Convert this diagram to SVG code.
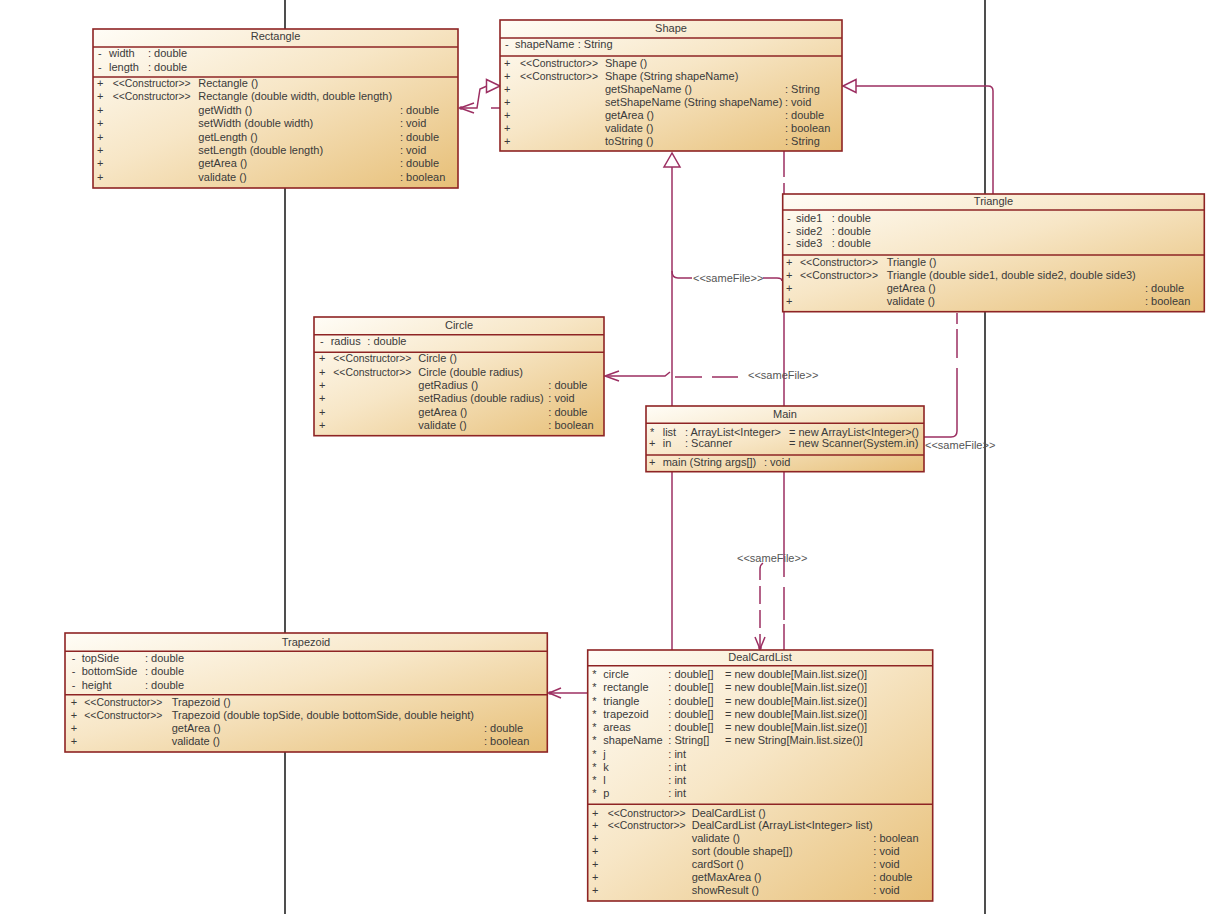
<svg xmlns="http://www.w3.org/2000/svg" width="1222" height="914" viewBox="0 0 1222 914">
<defs>
<linearGradient id="g" x1="0" y1="0" x2="1" y2="1">
<stop offset="0" stop-color="#FFFDF7"/>
<stop offset="0.45" stop-color="#F7E6C6"/>
<stop offset="1" stop-color="#E7BF77"/>
</linearGradient>
<style>
.box{fill:url(#g);stroke:#8E2424;stroke-width:1.6}
.sep{stroke:#8E2424;stroke-width:1.6}
text{font-family:"Liberation Sans",Arial,sans-serif;font-size:11px;fill:#3a3a3a}
.t{text-anchor:middle}
.s{font-size:10.4px}
.lbl{fill:#555}
.c{fill:none;stroke:#9C2F62;stroke-width:1.5}
.tri{fill:#fff;stroke:#9C2F62;stroke-width:1.5}
.bl{stroke:#222;stroke-width:1.6}
</style>
</defs>
<rect width="1222" height="914" fill="#fff"/>
<g id="swimlanes">
<line class="bl" x1="285" y1="0" x2="285" y2="914"/>
<line class="bl" x1="985" y1="0" x2="985" y2="914"/>
</g>
<g id="connectors">
<path class="c" d="M461,108 L477,108 L480,89 L487,86"/>
<polygon class="tri" points="500,86 486.5,79.5 486.5,92.5"/>
<path class="c" d="M500,108 L491,108"/>
<path class="c" d="M474,103 L460,108 L474,113"/>
<circle cx="461" cy="108" r="1.8" fill="#9C2F62"/>
<path class="c" d="M784,151 L784,177 M784,183 L784,194 M784,312 L784,406 M784,472 L784,577 M784,587 L784,620 M784,624 L784,650"/>
<path class="c" d="M672,153 L672,650"/>
<polygon class="tri" points="672,153 664,167 680,167"/>
<path class="c" d="M856,86 L988,86 Q993,86 993,91 L993,194"/>
<polygon class="tri" points="843,86 856,79.5 856,92.5"/>
<path class="c" d="M672,271 Q672,278 678,278 L692,278 M763,278 L777,278 Q782,278 782,281"/>
<text class="lbl" x="693" y="281.8">&lt;&lt;sameFile&gt;&gt;</text>
<path class="c" d="M606,376 L665,376 L670,372"/>
<path class="c" d="M619,371 L605,376 L619,381"/>
<path class="c" d="M675,377 L702,377 M712,377 L738,377"/>
<text class="lbl" x="748" y="379">&lt;&lt;sameFile&gt;&gt;</text>
<path class="c" d="M549,693 L588,693"/>
<path class="c" d="M561,688 L549,693 L561,698"/>
<circle cx="550" cy="693" r="1.8" fill="#9C2F62"/>
<text class="lbl" x="737" y="561.5">&lt;&lt;sameFile&gt;&gt;</text>
<path class="c" d="M763,563 Q760,565 760,569 L760,648" stroke-dasharray="18,6"/>
<path class="c" d="M755,637 L760,649 L765,637"/>
<circle cx="760" cy="648" r="1.8" fill="#9C2F62"/>
<path class="c" d="M957,313 L957,324 M957,329 L957,358 M957,368 L957,431 Q957,437 951,437 L924,437"/>
<text class="lbl" x="925" y="448.5">&lt;&lt;sameFile&gt;&gt;</text>
</g>
<g id="node-Rectangle">
<rect class="box" x="93" y="29" width="365" height="159"/>
<line class="sep" x1="93" y1="47" x2="458" y2="47"/>
<line class="sep" x1="93" y1="77" x2="458" y2="77"/>
<text class="t" x="275.5" y="39.5">Rectangle</text>
<text y="56.5"><tspan x="98">-</tspan><tspan x="109">width</tspan><tspan x="148">: double</tspan></text>
<text y="70.5"><tspan x="98">-</tspan><tspan x="109">length</tspan><tspan x="148">: double</tspan></text>
<text y="87.1"><tspan x="97">+</tspan><tspan class="s" x="112.7">&lt;&lt;Constructor&gt;&gt;</tspan><tspan x="198.3">Rectangle ()</tspan></text>
<text y="100.4"><tspan x="97">+</tspan><tspan class="s" x="112.7">&lt;&lt;Constructor&gt;&gt;</tspan><tspan x="198.3">Rectangle (double width, double length)</tspan></text>
<text y="113.8"><tspan x="97">+</tspan><tspan x="198.3">getWidth ()</tspan><tspan x="400">: double</tspan></text>
<text y="127.1"><tspan x="97">+</tspan><tspan x="198.3">setWidth (double width)</tspan><tspan x="400">: void</tspan></text>
<text y="140.5"><tspan x="97">+</tspan><tspan x="198.3">getLength ()</tspan><tspan x="400">: double</tspan></text>
<text y="153.8"><tspan x="97">+</tspan><tspan x="198.3">setLength (double length)</tspan><tspan x="400">: void</tspan></text>
<text y="167.1"><tspan x="97">+</tspan><tspan x="198.3">getArea ()</tspan><tspan x="400">: double</tspan></text>
<text y="180.5"><tspan x="97">+</tspan><tspan x="198.3">validate ()</tspan><tspan x="400">: boolean</tspan></text>
</g>
<g id="node-Shape">
<rect class="box" x="500" y="20" width="342" height="131"/>
<line class="sep" x1="500" y1="38" x2="842" y2="38"/>
<line class="sep" x1="500" y1="56" x2="842" y2="56"/>
<text class="t" x="671" y="31.7">Shape</text>
<text y="48.3"><tspan x="505">-</tspan><tspan x="515">shapeName</tspan><tspan x="577.7">: String</tspan></text>
<text y="66.5"><tspan x="504">+</tspan><tspan class="s" x="520">&lt;&lt;Constructor&gt;&gt;</tspan><tspan x="605">Shape ()</tspan></text>
<text y="79.6"><tspan x="504">+</tspan><tspan class="s" x="520">&lt;&lt;Constructor&gt;&gt;</tspan><tspan x="605">Shape (String shapeName)</tspan></text>
<text y="92.6"><tspan x="504">+</tspan><tspan x="605">getShapeName ()</tspan><tspan x="785">: String</tspan></text>
<text y="105.7"><tspan x="504">+</tspan><tspan x="605">setShapeName (String shapeName)</tspan><tspan x="785">: void</tspan></text>
<text y="118.7"><tspan x="504">+</tspan><tspan x="605">getArea ()</tspan><tspan x="785">: double</tspan></text>
<text y="131.8"><tspan x="504">+</tspan><tspan x="605">validate ()</tspan><tspan x="785">: boolean</tspan></text>
<text y="144.8"><tspan x="504">+</tspan><tspan x="605">toString ()</tspan><tspan x="785">: String</tspan></text>
</g>
<g id="node-Triangle">
<rect class="box" x="782.7" y="194" width="421.6" height="117.7"/>
<line class="sep" x1="782.7" y1="210" x2="1204.3" y2="210"/>
<line class="sep" x1="782.7" y1="255" x2="1204.3" y2="255"/>
<text class="t" x="993.5" y="205">Triangle</text>
<text y="221.7"><tspan x="787">-</tspan><tspan x="796">side1</tspan><tspan x="831.7">: double</tspan></text>
<text y="234.7"><tspan x="787">-</tspan><tspan x="796">side2</tspan><tspan x="831.7">: double</tspan></text>
<text y="247.3"><tspan x="787">-</tspan><tspan x="796">side3</tspan><tspan x="831.7">: double</tspan></text>
<text y="265.5"><tspan x="786">+</tspan><tspan class="s" x="800">&lt;&lt;Constructor&gt;&gt;</tspan><tspan x="886.7">Triangle ()</tspan></text>
<text y="278.8"><tspan x="786">+</tspan><tspan class="s" x="800">&lt;&lt;Constructor&gt;&gt;</tspan><tspan x="886.7">Triangle (double side1, double side2, double side3)</tspan></text>
<text y="292"><tspan x="786">+</tspan><tspan x="886.7">getArea ()</tspan><tspan x="1145">: double</tspan></text>
<text y="305"><tspan x="786">+</tspan><tspan x="886.7">validate ()</tspan><tspan x="1145">: boolean</tspan></text>
</g>
<g id="node-Circle">
<rect class="box" x="314" y="317" width="290" height="118.7"/>
<line class="sep" x1="314" y1="334.7" x2="604" y2="334.7"/>
<line class="sep" x1="314" y1="352.3" x2="604" y2="352.3"/>
<text class="t" x="459" y="329.3">Circle</text>
<text y="345.3"><tspan x="320">-</tspan><tspan x="330.7">radius</tspan><tspan x="367.3">: double</tspan></text>
<text y="362.3"><tspan x="319">+</tspan><tspan class="s" x="333.3">&lt;&lt;Constructor&gt;&gt;</tspan><tspan x="418.3">Circle ()</tspan></text>
<text y="375.7"><tspan x="319">+</tspan><tspan class="s" x="333.3">&lt;&lt;Constructor&gt;&gt;</tspan><tspan x="418.3">Circle (double radius)</tspan></text>
<text y="389"><tspan x="319">+</tspan><tspan x="418.3">getRadius ()</tspan><tspan x="548.3">: double</tspan></text>
<text y="402.3"><tspan x="319">+</tspan><tspan x="418.3">setRadius (double radius)</tspan><tspan x="548.3">: void</tspan></text>
<text y="415.5"><tspan x="319">+</tspan><tspan x="418.3">getArea ()</tspan><tspan x="548.3">: double</tspan></text>
<text y="428.7"><tspan x="319">+</tspan><tspan x="418.3">validate ()</tspan><tspan x="548.3">: boolean</tspan></text>
</g>
<g id="node-Main">
<rect class="box" x="646" y="406" width="278" height="65.7"/>
<line class="sep" x1="646" y1="423.3" x2="924" y2="423.3"/>
<line class="sep" x1="646" y1="455" x2="924" y2="455"/>
<text class="t" x="785" y="418">Main</text>
<text y="435.5"><tspan x="650">*</tspan><tspan x="662.7">list</tspan><tspan x="685">: ArrayList&lt;Integer&gt;</tspan><tspan x="789">= new ArrayList&lt;Integer&gt;()</tspan></text>
<text y="446.7"><tspan x="649">+</tspan><tspan x="662.7">in</tspan><tspan x="685">: Scanner</tspan><tspan x="789">= new Scanner(System.in)</tspan></text>
<text y="465.5"><tspan x="649">+</tspan><tspan x="662.7">main (String args[])</tspan><tspan x="764">: void</tspan></text>
</g>
<g id="node-Trapezoid">
<rect class="box" x="65" y="633" width="482.3" height="119"/>
<line class="sep" x1="65" y1="651.3" x2="547.3" y2="651.3"/>
<line class="sep" x1="65" y1="694.7" x2="547.3" y2="694.7"/>
<text class="t" x="306" y="645.8">Trapezoid</text>
<text y="662"><tspan x="71.7">-</tspan><tspan x="81.7">topSide</tspan><tspan x="145">: double</tspan></text>
<text y="675.3"><tspan x="71.7">-</tspan><tspan x="81.7">bottomSide</tspan><tspan x="145">: double</tspan></text>
<text y="688.5"><tspan x="71.7">-</tspan><tspan x="81.7">height</tspan><tspan x="145">: double</tspan></text>
<text y="706"><tspan x="70.7">+</tspan><tspan class="s" x="84.3">&lt;&lt;Constructor&gt;&gt;</tspan><tspan x="171.7">Trapezoid ()</tspan></text>
<text y="719"><tspan x="70.7">+</tspan><tspan class="s" x="84.3">&lt;&lt;Constructor&gt;&gt;</tspan><tspan x="171.7">Trapezoid (double topSide, double bottomSide, double height)</tspan></text>
<text y="732"><tspan x="70.7">+</tspan><tspan x="171.7">getArea ()</tspan><tspan x="484">: double</tspan></text>
<text y="745"><tspan x="70.7">+</tspan><tspan x="171.7">validate ()</tspan><tspan x="484">: boolean</tspan></text>
</g>
<g id="node-DealCardList">
<rect class="box" x="587.7" y="650" width="345" height="251"/>
<line class="sep" x1="587.7" y1="665.7" x2="932.7" y2="665.7"/>
<line class="sep" x1="587.7" y1="804.3" x2="932.7" y2="804.3"/>
<text class="t" x="760" y="661">DealCardList</text>
<text y="678.2"><tspan x="592.3">*</tspan><tspan x="603.3">circle</tspan><tspan x="668.3">: double[]</tspan><tspan x="725">= new double[Main.list.size()]</tspan></text>
<text y="691.4"><tspan x="592.3">*</tspan><tspan x="603.3">rectangle</tspan><tspan x="668.3">: double[]</tspan><tspan x="725">= new double[Main.list.size()]</tspan></text>
<text y="704.6"><tspan x="592.3">*</tspan><tspan x="603.3">triangle</tspan><tspan x="668.3">: double[]</tspan><tspan x="725">= new double[Main.list.size()]</tspan></text>
<text y="717.9"><tspan x="592.3">*</tspan><tspan x="603.3">trapezoid</tspan><tspan x="668.3">: double[]</tspan><tspan x="725">= new double[Main.list.size()]</tspan></text>
<text y="731.1"><tspan x="592.3">*</tspan><tspan x="603.3">areas</tspan><tspan x="668.3">: double[]</tspan><tspan x="725">= new double[Main.list.size()]</tspan></text>
<text y="744.3"><tspan x="592.3">*</tspan><tspan x="603.3">shapeName</tspan><tspan x="668.3">: String[]</tspan><tspan x="725">= new String[Main.list.size()]</tspan></text>
<text y="757.6"><tspan x="592.3">*</tspan><tspan x="603.3">j</tspan><tspan x="668.3">: int</tspan></text>
<text y="770.8"><tspan x="592.3">*</tspan><tspan x="603.3">k</tspan><tspan x="668.3">: int</tspan></text>
<text y="784"><tspan x="592.3">*</tspan><tspan x="603.3">l</tspan><tspan x="668.3">: int</tspan></text>
<text y="797.3"><tspan x="592.3">*</tspan><tspan x="603.3">p</tspan><tspan x="668.3">: int</tspan></text>
<text y="816.5"><tspan x="592">+</tspan><tspan class="s" x="607.7">&lt;&lt;Constructor&gt;&gt;</tspan><tspan x="691.7">DealCardList ()</tspan></text>
<text y="829.4"><tspan x="592">+</tspan><tspan class="s" x="607.7">&lt;&lt;Constructor&gt;&gt;</tspan><tspan x="691.7">DealCardList (ArrayList&lt;Integer&gt; list)</tspan></text>
<text y="842.3"><tspan x="592">+</tspan><tspan x="691.7">validate ()</tspan><tspan x="873.3">: boolean</tspan></text>
<text y="855.2"><tspan x="592">+</tspan><tspan x="691.7">sort (double shape[])</tspan><tspan x="873.3">: void</tspan></text>
<text y="868.1"><tspan x="592">+</tspan><tspan x="691.7">cardSort ()</tspan><tspan x="873.3">: void</tspan></text>
<text y="881"><tspan x="592">+</tspan><tspan x="691.7">getMaxArea ()</tspan><tspan x="873.3">: double</tspan></text>
<text y="893.9"><tspan x="592">+</tspan><tspan x="691.7">showResult ()</tspan><tspan x="873.3">: void</tspan></text>
</g>
</svg>
